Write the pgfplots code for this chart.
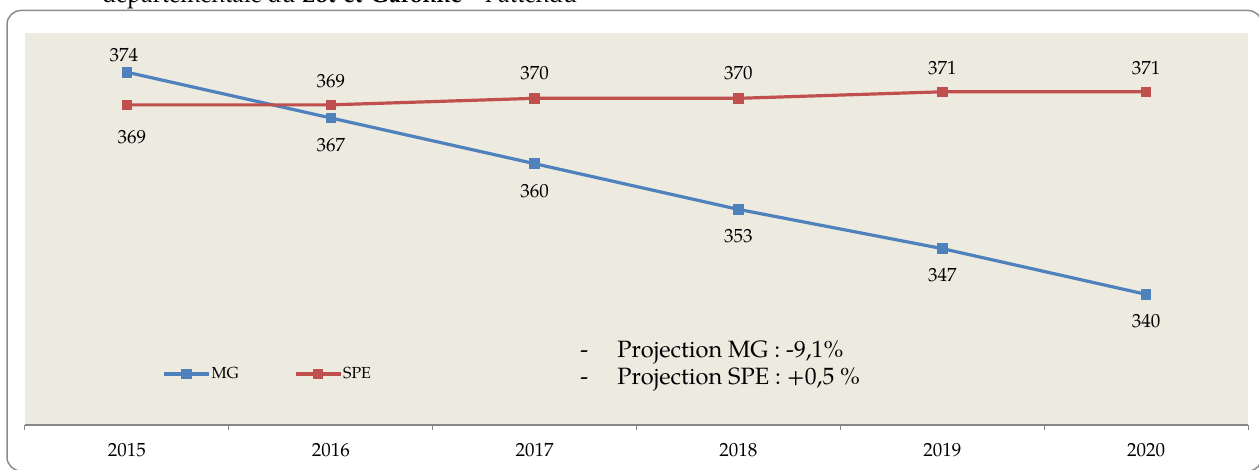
\documentclass[border=0pt]{standalone}
\usepackage{fontspec}
\setmainfont{TeX Gyre Pagella}
\usepackage{pgfplots}
\pgfplotsset{compat=1.18}
\usepackage{pgfplotstable}

\definecolor{mgblue}{HTML}{4F81BD}
\definecolor{spered}{HTML}{C0504D}
\definecolor{plotbg}{HTML}{EDEAE0}
\definecolor{axgray}{HTML}{878787}
\definecolor{framegray}{HTML}{8C8C8C}

% x = year index (0 = 2015), dx/dy = label offset in pt
\pgfplotstableread{
x y dx dy
0 374 -1.5 8.5
1 367 0 -13.5
2 360 0 -13.5
3 353 0 -13.5
4 347 0 -13.5
5 340 0 -13.5
}\mgdata
\pgfplotstableread{
x y dx dy
0 369 2.5 -16
1 369 0 12
2 370 0 12.5
3 370 0 12.5
4 371 0 12
5 371 0 12
}\spedata

\begin{document}
\begin{tikzpicture}
\useasboundingbox (0,0) rectangle (629.5pt,235pt);
\clip (0,0) rectangle (629.5pt,235pt);
\node[anchor=base west,inner sep=0pt,font=\fontsize{11.5}{13}\selectfont] at (51pt,233.5pt)
  {départementale du \textbf{Lot-et-Garonne} – l'attendu};
\draw[framegray,line width=0.75pt,rounded corners=7pt] (3.5pt,-0.5pt) rectangle (631pt,229.75pt);
\begin{axis}[
  at={(12.5pt,22.5pt)},anchor=south west,
  scale only axis,width=611.5pt,height=196pt,
  xmin=-0.5,xmax=5.5,ymin=320,ymax=380,
  axis x line=bottom,axis y line=none,
  x axis line style={-,axgray,line width=1pt},
  axis background/.style={fill=plotbg},
  xtick={0,...,5},xticklabels={2015,2016,2017,2018,2019,2020},
  major tick length=0pt,
  minor xtick={-0.5,0.5,...,5.5},
  minor tick length=2.5pt,tick align=outside,
  minor x tick style={axgray,line width=0.5pt},
  xticklabel style={anchor=base,yshift=-16pt,font=\fontsize{9.5}{11}\selectfont},
  ytick=\empty,
  clip=false,
  /pgf/number format/assume math mode=true,
  nodes near coords,
  visualization depends on={\thisrow{dx} \as \dx},
  visualization depends on={\thisrow{dy} \as \dy},
  every node near coord/.append style={anchor=center,xshift=\dx pt,yshift=\dy pt,
    font=\fontsize{9.5}{11}\selectfont,text=black},
  legend columns=2,
  legend style={at={(axis description cs:0.112,0.130)},anchor=west,draw=none,fill=none,
    inner sep=0pt,font=\fontsize{8}{9}\selectfont,nodes={inner sep=0.5pt},
    /tikz/every even column/.append style={column sep=27pt}},
  legend image code/.code={\draw[mark repeat=2,mark phase=2,#1]
    plot coordinates {(0pt,0pt)(11.25pt,0pt)(22.5pt,0pt)};},
]
\addplot[mgblue,line width=1.6pt,mark=square*,mark size=2.4pt,mark options={line width=0.4pt}]
  table[x=x,y=y] {\mgdata};
\addlegendentry{MG}
\addplot[spered,line width=1.6pt,mark=square*,mark size=2.4pt,mark options={line width=0.4pt}]
  table[x=x,y=y] {\spedata};
\addlegendentry{SPE}
\end{axis}
\node[anchor=base west,inner sep=0pt,font=\fontsize{11.8}{13}\selectfont] at (290pt,56pt)
  {\makebox[18.5pt][l]{-}Projection MG : -9,1\%};
\node[anchor=base west,inner sep=0pt,font=\fontsize{11.8}{13}\selectfont] at (290pt,42.5pt)
  {\makebox[18.5pt][l]{-}Projection SPE : +0,5 \%};
\end{tikzpicture}
\end{document}
